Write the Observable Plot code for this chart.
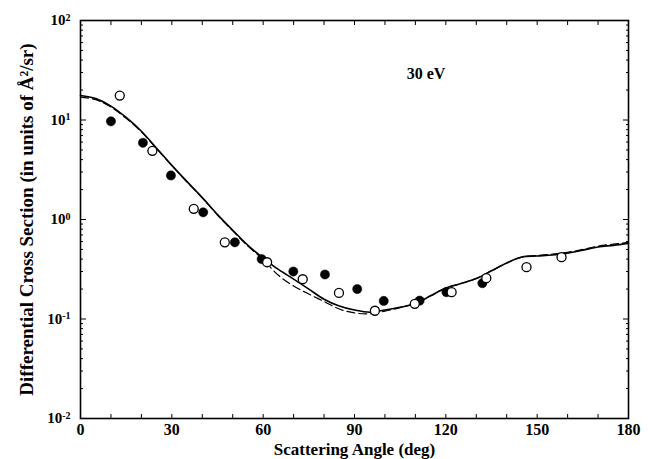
<!DOCTYPE html>
<html><head><meta charset="utf-8">
<script src="https://cdn.jsdelivr.net/npm/d3@7"></script>
<script src="https://cdn.jsdelivr.net/npm/@observablehq/plot@0.6"></script>
<style>
body{margin:0;background:#fff;}
#chart svg{font-family:"Liberation Serif","Times New Roman",serif;font-weight:bold;}
g[aria-label="x-axis tick label"] text{font-size:16px;}
g[aria-label="y-axis tick label"] text{font-size:15px;}
g[aria-label="x-axis label"] text{font-size:17px;}
g[aria-label="y-axis label"] text{font-size:19px;}
</style></head><body><div id="chart"></div>
<script>
// Theory curves (angle in deg, DCS in Å²/sr)
const curveAngle  = [0,5,10,15,20,25,30,35,40,45,50,55,60,65,70,75,80,85,90,95,100,105,110,115,120,125,130,135,140,145,150,155,160,165,170,175,180];
const solidValue  = [17.6,16.4,13.8,10.6,7.7,5.2,3.5,2.4,1.66,1.12,0.78,0.55,0.41,0.315,0.252,0.2,0.158,0.135,0.123,0.117,0.123,0.131,0.143,0.171,0.205,0.227,0.255,0.305,0.366,0.419,0.43,0.44,0.459,0.492,0.53,0.55,0.575];
const dashedValue = [17.0,16.0,13.5,10.4,7.6,5.15,3.48,2.38,1.65,1.11,0.77,0.54,0.395,0.275,0.215,0.178,0.15,0.126,0.115,0.113,0.12,0.13,0.143,0.171,0.205,0.227,0.255,0.305,0.366,0.419,0.435,0.448,0.468,0.5,0.54,0.565,0.59];
// Measured points
const filledAngle = [10,20.5,29.7,40.3,50.7,59.5,69.9,80.3,90.9,99.6,111.4,120.2,132];
const filledValue = [9.7,5.9,2.77,1.18,0.59,0.40,0.30,0.28,0.20,0.152,0.153,0.186,0.229];
const openAngle   = [12.9,23.6,37.2,47.4,61.3,73,84.9,96.7,109.8,121.9,133.3,146.5,158];
const openValue   = [17.6,4.9,1.28,0.59,0.372,0.251,0.183,0.121,0.142,0.186,0.257,0.332,0.418];
// Ticks and text
const xMinorTicks = d3.range(0, 181, 10);
const xTickLabels = [0,30,60,90,120,150,180];
const yDecades    = [0.01,0.1,1,10,100];
const yMinorTicks = [-2,-1,0,1].flatMap(k => d3.range(2,10).map(m => m*Math.pow(10,k)));
const annotationText = ["30 eV"];
const xLabel = "Scattering Angle (deg)";
const yLabel = "Differential Cross Section (in units of Å²/sr)";

const solid  = curveAngle.map((a,i)=>({a, v: solidValue[i]}));
const dashed = curveAngle.map((a,i)=>({a, v: dashedValue[i]}));
const filled = filledAngle.map((a,i)=>({a, v: filledValue[i]}));
const open   = openAngle.map((a,i)=>({a, v: openValue[i]}));

const blank = () => "";
const chart = Plot.plot({
  width: 648, height: 459,
  marginLeft: 80, marginRight: 20, marginTop: 20, marginBottom: 41,
  style: {background: "white", color: "black"},
  x: {domain: [0, 180]},
  y: {type: "log", domain: [0.01, 100]},
  marks: [
    Plot.axisX({anchor: "bottom", ticks: xMinorTicks, tickSize: -4, tickFormat: blank, label: null}),
    Plot.axisX({anchor: "top", ticks: xMinorTicks, tickSize: -4, tickFormat: blank, label: null}),
    Plot.axisX({anchor: "bottom", ticks: xTickLabels, tickSize: 0, tickPadding: 5, tickFormat: d => String(d),
      label: xLabel, labelAnchor: "center", labelArrow: "none", labelOffset: 36}),
    Plot.axisY({anchor: "left", ticks: yDecades, tickSize: -6, tickFormat: blank, label: null}),
    Plot.axisY({anchor: "left", ticks: yMinorTicks, tickSize: -3, tickFormat: blank, label: null}),
    Plot.axisY({anchor: "right", ticks: yDecades, tickSize: -6, tickFormat: blank, label: null}),
    Plot.axisY({anchor: "right", ticks: yMinorTicks, tickSize: -3, tickFormat: blank, label: null}),
    Plot.axisY({anchor: "left", ticks: yDecades, tickSize: 0, tickPadding: 10,
      tickFormat: d => "10|" + Math.round(Math.log10(d)),
      label: yLabel, labelAnchor: "center", labelArrow: "none", labelOffset: 61}),
    Plot.frame({stroke: "black", strokeWidth: 1.6}),
    Plot.line(dashed, {x: "a", y: "v", curve: "catmull-rom", stroke: "black", strokeWidth: 1.2, strokeDasharray: "8,4"}),
    Plot.line(solid, {x: "a", y: "v", curve: "catmull-rom", stroke: "black", strokeWidth: 1.6}),
    Plot.dot(filled, {x: "a", y: "v", r: 4.6, fill: "black", stroke: "black", strokeWidth: 0.5}),
    Plot.dot(open, {x: "a", y: "v", r: 4.5, fill: "white", stroke: "black", strokeWidth: 1.3}),
    Plot.text(annotationText, {x: 113.5, y: 29, text: d => d, fontSize: 16, fontWeight: "bold"})
  ]
});
document.getElementById("chart").appendChild(chart);

// Render 10|n as 10 with superscript exponent
d3.select(chart).selectAll('g[aria-label="y-axis tick label"] text').each(function() {
  const t = d3.select(this);
  const s = t.text();
  if (!s.includes("|")) return;
  const [base, exp] = s.split("|");
  t.text(null);
  t.append("tspan").text(base);
  t.append("tspan").attr("dy", "-0.45em").attr("font-size", "10px").text(exp);
});
</script></body></html>
